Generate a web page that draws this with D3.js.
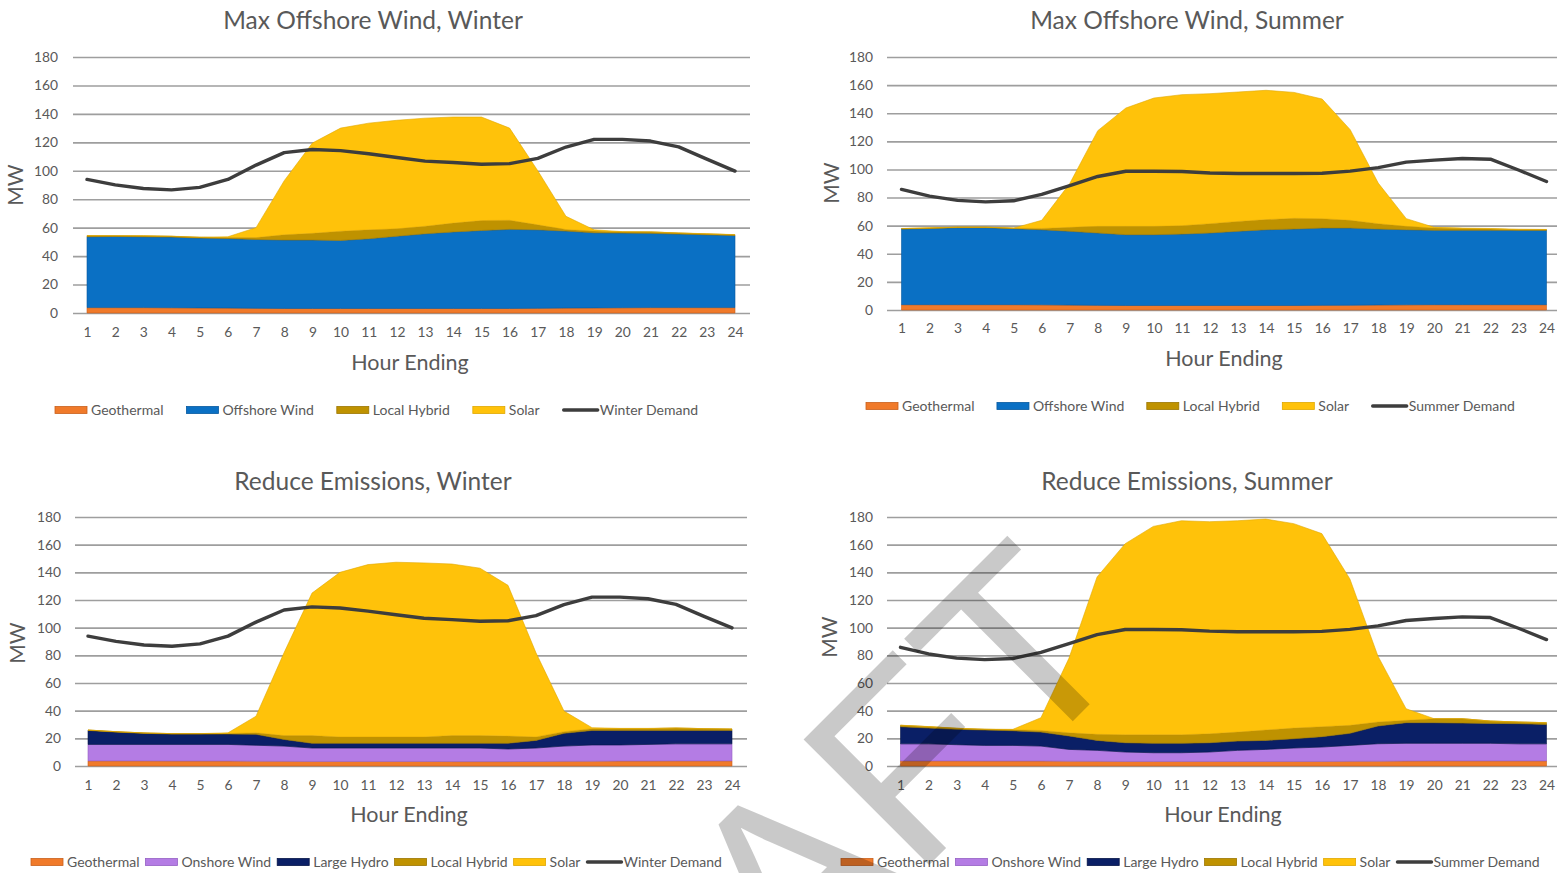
<!DOCTYPE html>
<html>
<head>
<meta charset="utf-8">
<script src="https://cdn.jsdelivr.net/npm/d3@7"></script>
<style>
  body { margin: 0; background: #fff; }
  svg { display: block; }
  text { font-family: Lato, "Open Sans", sans-serif; fill: #595959; }
</style>
</head>
<body>
<svg id="chart" width="1557" height="873"></svg>
<script>
// ---- categories and ticks ----
const hours = [1,2,3,4,5,6,7,8,9,10,11,12,13,14,15,16,17,18,19,20,21,22,23,24];
const yTicks = [0,20,40,60,80,100,120,140,160,180];

// ---- demand (MW) ----
const winterDemand = [93.9,90.1,87.5,86.6,88.3,93.9,104,112.8,115,114.2,112,109.3,106.8,105.8,104.6,105,108.7,116.7,122.1,122.1,120.9,116.8,108.2,99.8];
const summerDemand = [85.8,81,78,76.9,77.7,82.2,88.5,95,98.7,98.7,98.5,97.5,97.1,97.1,97.1,97.3,98.8,101.3,105.2,106.6,107.8,107.3,99.6,91.4];

// ---- Max Offshore Wind, Winter (MW by resource) ----
const mowWinterGeothermal = [3.8,3.8,3.8,3.7,3.6,3.5,3.3,3.2,3.2,3.2,3.2,3.2,3.2,3.2,3.2,3.2,3.3,3.5,3.6,3.7,3.8,3.8,3.8,3.8];
const mowWinterOffshore   = [49.8,50.0,49.8,49.7,49.1,48.9,48.4,48.1,48.1,47.8,49.0,50.8,52.5,53.8,54.8,55.6,55.2,54.1,52.8,52.5,52.2,51.7,51.2,50.7];
const mowWinterHybrid     = [0.7,0.5,0.6,0.5,0.5,0.6,1.3,3.7,4.7,6.5,6.3,5.2,5.3,6.2,7.0,6.4,3.5,1.1,1.2,0.8,1.0,0.7,0.6,0.5];
const mowWinterSolar      = [0.2,0.1,0.1,0.1,0.1,0.6,7.0,38.0,63.5,72.5,75.0,76.3,76.0,74.6,72.8,64.8,38.0,9.3,0.9,0.2,0,0.1,0.1,0.1];

// ---- Max Offshore Wind, Summer ----
const mowSummerGeothermal = [3.8,3.8,3.8,3.8,3.8,3.7,3.5,3.3,3.2,3.2,3.2,3.2,3.2,3.2,3.2,3.3,3.4,3.6,3.7,3.8,3.8,3.8,3.8,3.8];
const mowSummerOffshore   = [53.8,54.2,54.8,54.8,54.1,53.4,52.5,51.5,50.4,50.4,50.8,51.6,52.8,53.9,54.4,55.0,54.9,54.0,53.4,52.9,52.9,52.9,52.9,52.9];
const mowSummerHybrid     = [0.3,0.3,0.3,0.3,0.3,0.9,2.8,4.7,5.9,5.9,6.0,6.6,7.0,7.2,7.6,6.7,5.5,3.8,2.4,1.6,1.3,0.9,0.4,0.4];
const mowSummerSolar      = [0.1,0.2,0.1,0.1,0.1,5.8,31.2,68.1,84.2,91.3,93.2,92.5,92.1,92.0,89.6,85.1,64.5,28.9,5.5,0.5,0.3,0.4,0.4,0.2];

// ---- Reduce Emissions, Winter ----
const reWinterGeothermal = [3.7,3.7,3.7,3.6,3.6,3.6,3.5,3.4,3.3,3.3,3.3,3.3,3.3,3.2,3.2,3.2,3.3,3.4,3.5,3.6,3.6,3.7,3.7,3.7];
const reWinterOnshore    = [11.9,11.9,11.9,12.0,12.0,12.0,11.5,11.0,9.7,9.7,9.7,9.7,9.7,9.8,9.8,9.1,9.7,11.0,11.7,11.6,12.0,12.3,12.3,12.3];
const reWinterHydro      = [10.1,8.9,8.0,7.5,7.5,7.5,7.9,4.8,3.4,3.4,3.4,3.4,3.4,3.4,3.4,4.1,5.5,9.2,10.5,10.5,10.1,9.7,9.7,9.7];
const reWinterHybrid     = [0.3,0.3,0.3,0.3,0.3,0.4,1.1,2.8,5.6,4.6,4.6,4.6,4.6,5.6,5.6,5.2,2.5,1.2,1.3,1.3,1.3,1.7,1.3,1.0];
const reWinterSolar      = [0,0,0,0,0,0.5,12.0,59.8,103.0,119.0,124.6,126.3,125.8,124.0,121.0,109.0,60.8,14.9,0.7,0.2,0.2,0.1,0,0.1];

// ---- Reduce Emissions, Summer ----
const reSummerGeothermal = [3.7,3.7,3.7,3.6,3.6,3.6,3.5,3.4,3.3,3.3,3.3,3.3,3.3,3.3,3.3,3.3,3.4,3.5,3.6,3.7,3.7,3.7,3.7,3.7];
const reSummerOnshore    = [12.3,12.3,11.7,11.3,11.3,10.8,8.5,7.9,6.8,6.3,6.3,6.8,8.0,8.7,9.7,10.4,11.5,12.6,12.8,12.7,12.7,12.7,12.3,12.3];
const reSummerHydro      = [12.4,11.4,11.1,11.1,10.6,10.1,9.7,7.2,6.7,6.8,6.8,6.7,6.7,6.5,6.7,7.5,8.7,12.8,14.9,14.9,14.6,14.4,14.6,14.0];
const reSummerHybrid     = [1.0,1.0,0.7,0.5,0.7,1.2,2.3,4.4,5.8,6.2,6.2,6.5,6.5,7.5,7.7,7.2,5.8,2.9,1.7,2.9,3.2,1.7,1.2,1.3];
const reSummerSolar      = [0.1,0.1,0.1,0.1,0.3,9.2,54.0,113.8,138.1,150.6,154.7,153.3,152.8,152.5,147.8,139.6,105.8,47.6,8.4,0,0,0,0,0];

// ---- resource colours ----
const colors = {
  "Geothermal":    { fill: "#F07A2A", edge: "#C9601C" },
  "Offshore Wind": { fill: "#0A70C4", edge: "#0659A0" },
  "Onshore Wind":  { fill: "#B47CE4", edge: "#9460C4" },
  "Large Hydro":   { fill: "#0A1F66", edge: "#061548" },
  "Local Hybrid":  { fill: "#BF9200", edge: "#9C7700" },
  "Solar":         { fill: "#FFC20A", edge: "#E0A800" }
};
const demandColor = "#3d3d3d";

const panels = [
  {
    title: "Max Offshore Wind, Winter",
    series: [["Geothermal", mowWinterGeothermal], ["Offshore Wind", mowWinterOffshore], ["Local Hybrid", mowWinterHybrid], ["Solar", mowWinterSolar]],
    demand: ["Winter Demand", winterDemand],
    frame: { titleX: 373, titleY: 29, gridL: 73, gridR: 750, yTop: 57, yBot: 313, xFirst: 87, xLast: 735, labelR: 58,
             xLabelY: 338, axisTitleX: 410, axisTitleY: 370, mwX: 16, mwY: 185, legendX: 55, legendY: 410, legendGap: 23 }
  },
  {
    title: "Max Offshore Wind, Summer",
    series: [["Geothermal", mowSummerGeothermal], ["Offshore Wind", mowSummerOffshore], ["Local Hybrid", mowSummerHybrid], ["Solar", mowSummerSolar]],
    demand: ["Summer Demand", summerDemand],
    frame: { titleX: 1187, titleY: 29, gridL: 887, gridR: 1557, yTop: 57, yBot: 310, xFirst: 901.5, xLast: 1546.5, labelR: 873,
             xLabelY: 334, axisTitleX: 1224, axisTitleY: 366, mwX: 832, mwY: 183, legendX: 866, legendY: 406, legendGap: 22.5 }
  },
  {
    title: "Reduce Emissions, Winter",
    series: [["Geothermal", reWinterGeothermal], ["Onshore Wind", reWinterOnshore], ["Large Hydro", reWinterHydro], ["Local Hybrid", reWinterHybrid], ["Solar", reWinterSolar]],
    demand: ["Winter Demand", winterDemand],
    frame: { titleX: 373, titleY: 490, gridL: 75, gridR: 747, yTop: 517, yBot: 766, xFirst: 88, xLast: 732, labelR: 61,
             xLabelY: 791, axisTitleX: 409, axisTitleY: 822, mwX: 18, mwY: 643, legendX: 31, legendY: 862, legendGap: 6 }
  },
  {
    title: "Reduce Emissions, Summer",
    series: [["Geothermal", reSummerGeothermal], ["Onshore Wind", reSummerOnshore], ["Large Hydro", reSummerHydro], ["Local Hybrid", reSummerHybrid], ["Solar", reSummerSolar]],
    demand: ["Summer Demand", summerDemand],
    frame: { titleX: 1187, titleY: 490, gridL: 887, gridR: 1557, yTop: 517, yBot: 766, xFirst: 900.5, xLast: 1546.5, labelR: 873,
             xLabelY: 791, axisTitleX: 1223, axisTitleY: 822, mwX: 830, mwY: 637, legendX: 841, legendY: 862, legendGap: 6 }
  }
];

const svg = d3.select("#chart");

function drawPanel(p) {
  const f = p.frame;
  const g = svg.append("g");
  const x = d3.scalePoint().domain(hours).range([f.xFirst, f.xLast]);
  const y = d3.scaleLinear().domain([0, 180]).range([f.yBot, f.yTop]);

  // horizontal gridlines with value labels
  const yAxis = d3.axisLeft(y).tickValues(yTicks)
    .tickSize(-(f.gridR - f.gridL)).tickPadding(f.gridL - f.labelR);
  const ya = g.append("g").attr("transform", `translate(${f.gridL},0)`).call(yAxis);
  ya.select(".domain").remove();
  ya.selectAll(".tick line").attr("stroke", "#9e9e9e").attr("stroke-width", 1.6);
  ya.selectAll(".tick text").attr("fill", "#595959").style("font-size", "13.8px").attr("font-family", null);

  // stacked generation areas
  const keys = p.series.map(s => s[0]);
  const rows = hours.map((h, i) => {
    const r = { hour: h };
    p.series.forEach(([name, vals]) => { r[name] = vals[i]; });
    return r;
  });
  const stacked = d3.stack().keys(keys)(rows);
  const area = d3.area().x(d => x(d.data.hour)).y0(d => y(d[0])).y1(d => y(d[1]));
  g.append("g").selectAll("path").data(stacked).join("path")
    .attr("d", area)
    .attr("fill", d => colors[d.key].fill)
    .attr("stroke", d => colors[d.key].edge)
    .attr("stroke-width", 0.6)
    .attr("stroke-linejoin", "round");

  // demand line
  const line = d3.line().x((d, i) => x(hours[i])).y(d => y(d));
  g.append("path").datum(p.demand[1])
    .attr("d", line).attr("fill", "none")
    .attr("stroke", demandColor).attr("stroke-width", 3.4)
    .attr("stroke-linejoin", "round").attr("stroke-linecap", "round");

  // hour labels
  const xAxis = d3.axisBottom(x).tickSize(0).tickPadding(0);
  const xa = g.append("g").attr("transform", `translate(0,${f.xLabelY - 11})`).call(xAxis);
  xa.select(".domain").remove();
  xa.selectAll(".tick text").attr("fill", "#595959").style("font-size", "13.8px").attr("font-family", null)
    .attr("dy", "0.71em");

  // titles
  g.append("text").attr("x", f.titleX).attr("y", f.titleY).attr("text-anchor", "middle")
    .style("font-size", "24.5px").text(p.title);
  g.append("text").attr("x", f.axisTitleX).attr("y", f.axisTitleY).attr("text-anchor", "middle")
    .style("font-size", "21.5px").text("Hour Ending");
  g.append("text").attr("transform", `translate(${f.mwX + 7},${f.mwY}) rotate(-90)`)
    .attr("text-anchor", "middle").style("font-size", "21px").text("MW");

  // legend
  const lg = g.append("g").attr("transform", `translate(${f.legendX},${f.legendY})`);
  let cx = 0;
  const entries = p.series.map(s => ({ name: s[0], kind: "area" })).concat([{ name: p.demand[0], kind: "line" }]);
  entries.forEach(e => {
    if (e.kind === "area") {
      lg.append("rect").attr("x", cx).attr("y", -3.5).attr("width", 32).attr("height", 7)
        .attr("fill", colors[e.name].fill).attr("stroke", colors[e.name].edge).attr("stroke-width", 0.8);
    } else {
      lg.append("line").attr("x1", cx + 1).attr("x2", cx + 35).attr("y1", 0).attr("y2", 0)
        .attr("stroke", demandColor).attr("stroke-width", 3.4).attr("stroke-linecap", "round");
    }
    const t = lg.append("text").attr("x", cx + (e.kind === "area" ? 36 : 37)).attr("y", 5)
      .style("font-size", "14px").text(e.name);
    cx += (e.kind === "area" ? 36 : 37) + t.node().getComputedTextLength() + f.legendGap;
  });
}

panels.forEach(drawPanel);

// draft stamp across the lower right panel
svg.append("text")
  .attr("transform", "translate(1137,657) rotate(-45)")
  .attr("text-anchor", "end")
  .style("font-family", "'Liberation Sans', Arial, sans-serif")
  .style("font-size", "258px")
  .style("fill", "rgba(0,0,0,0.21)")
  .text("DRAFT");
</script>
</body>
</html>
